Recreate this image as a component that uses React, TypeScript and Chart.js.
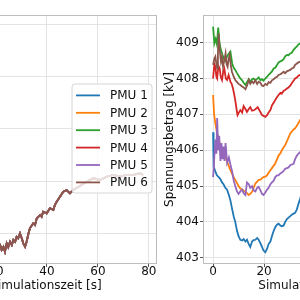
import { useEffect, useRef } from "react";
import { Chart, registerables } from "chart.js";

Chart.register(...registerables);

const PMU_LABELS = ["PMU 1", "PMU 2", "PMU 3", "PMU 4", "PMU 5", "PMU 6"];
const PMU_COLORS = ["#1f77b4", "#ff7f0e", "#2ca02c", "#d62728", "#9467bd", "#8c564b"];

const TIME_TICKS = [0, 20, 40, 60, 80];
const VOLT_TICKS = [403, 404, 405, 406, 407, 408, 409];
const LEFT_TICKS = [0, 5, 10, 15, 20];
const X_TITLE = "Simulationszeit [s]";
const VOLT_TITLE = "Spannungsbetrag [kV]";

// Left panel (all PMUs nearly identical)
const leftTime = [20.0, 21.6, 22.2, 22.9, 23.5, 24.2, 24.8, 25.5, 26.2, 26.8, 27.5, 28.1, 28.7, 29.4, 30.1, 30.7, 31.4, 32.0, 32.7, 33.3, 34.6, 35.3, 36.0, 37.3, 37.9, 38.5, 39.9, 41.2, 42.5, 43.1, 43.8, 45.1, 46.4, 47.7, 49.0, 50.3, 52.9, 55.6, 58.2, 60.8, 63.4, 66.0, 68.6, 71.3, 73.8, 76.5, 77.8];
const leftValue = [-1.4, -1.15, -1.63, -1.32, -1.8, -0.99, -1.35, -0.84, -1.15, -0.67, -0.84, -0.36, -0.51, -0.03, -0.51, -0.99, -1.32, -0.84, -0.1, 0.45, 0.93, 0.77, 1.41, 1.73, 1.57, 2.05, 1.89, 2.38, 2.21, 2.69, 3.01, 3.49, 3.97, 4.13, 3.82, 4.13, 4.52, 4.93, 5.26, 5.1, 5.41, 5.58, 5.41, 5.58, 5.58, 5.74, 5.58];

// Right panel: voltage magnitude per PMU
const pmu1Time = [0, 0.2, 0.9, 1.5, 2.2, 2.8, 3.5, 4.1, 4.8, 5.5, 6.2, 6.8, 7.5, 8.1, 8.7, 9.4, 10.0, 10.7, 11.4, 12.0, 12.7, 13.3, 14.0, 14.6, 15.3, 15.9, 16.6, 17.3, 17.9, 18.6, 19.2, 19.8, 20.5, 21.2, 21.8, 22.5, 23.1, 23.8, 24.4, 25.1, 25.7, 26.4, 27.0, 27.7, 28.3, 29.0, 29.6, 30.3, 30.9, 31.6, 32.2, 32.9, 33.5, 34.2, 35.0];
const pmu1Volt = [406.5, 405.55, 405.4, 405.3, 405.25, 405.2, 405.1, 405.05, 404.95, 404.9, 404.75, 404.6, 404.35, 404.15, 404.0, 403.75, 403.6, 403.5, 403.48, 403.52, 403.45, 403.5, 403.38, 403.3, 403.45, 403.49, 403.5, 403.55, 403.5, 403.4, 403.3, 403.2, 403.15, 403.25, 403.38, 403.45, 403.6, 403.75, 403.85, 403.92, 403.95, 403.9, 403.88, 403.9, 404.0, 404.08, 404.12, 404.16, 404.2, 404.23, 404.25, 404.35, 404.5, 404.65, 404.85];

const pmu2Time = [0, 0.4, 0.9, 1.5, 2.2, 2.9, 3.5, 4.2, 4.8, 5.5, 6.2, 6.8, 7.5, 8.1, 8.7, 9.4, 10.0, 10.7, 11.4, 12.0, 12.7, 13.3, 14.0, 14.6, 15.3, 15.9, 16.6, 17.3, 17.9, 18.6, 19.2, 19.8, 20.5, 21.2, 21.8, 22.5, 23.1, 23.8, 24.4, 25.1, 25.7, 26.4, 27.0, 27.7, 28.3, 29.0, 29.6, 30.3, 30.9, 31.6, 32.2, 32.9, 33.5, 34.2, 35.0];
const pmu2Volt = [407.54, 407.0, 406.75, 406.5, 406.3, 406.1, 406.0, 405.9, 405.82, 405.68, 405.55, 405.44, 405.33, 405.25, 405.17, 405.08, 405.0, 404.93, 404.9, 404.87, 404.84, 404.8, 404.75, 404.78, 404.84, 404.95, 405.07, 405.12, 405.17, 405.18, 405.22, 405.25, 405.26, 405.3, 405.37, 405.44, 405.5, 405.57, 405.63, 405.75, 405.85, 405.91, 406.0, 406.08, 406.14, 406.25, 406.35, 406.47, 406.52, 406.58, 406.61, 406.68, 406.76, 406.84, 406.95];

const pmu3Time = [0, 0.5, 1.0, 1.5, 2.0, 2.5, 2.9, 3.5, 4.2, 4.8, 5.5, 6.2, 6.8, 7.5, 8.1, 8.7, 9.4, 10.0, 10.7, 11.4, 12.0, 12.7, 13.3, 14.0, 14.6, 15.3, 15.9, 16.6, 17.3, 17.9, 18.6, 19.2, 19.8, 20.5, 21.2, 21.8, 22.5, 23.1, 23.8, 24.4, 25.1, 25.7, 26.4, 27.0, 27.7, 28.3, 29.0, 29.6, 30.3, 30.9, 31.6, 32.2, 32.9, 33.5, 34.2, 35.0];
const pmu3Volt = [409.45, 408.98, 409.1, 408.95, 409.42, 409.0, 408.85, 408.7, 408.56, 408.5, 408.62, 408.7, 408.75, 408.42, 408.3, 408.24, 408.15, 408.08, 408.0, 407.95, 407.88, 407.82, 407.9, 407.98, 407.91, 407.98, 408.0, 407.95, 407.99, 408.03, 407.95, 407.98, 407.94, 408.0, 408.05, 408.1, 408.15, 408.2, 408.28, 408.3, 408.38, 408.45, 408.48, 408.5, 408.54, 408.62, 408.66, 408.65, 408.7, 408.72, 408.8, 408.85, 408.9, 408.95, 408.98, 409.05];

const pmu4Time = [0, 0.5, 0.9, 1.3, 1.6, 2.1, 2.6, 3.0, 3.5, 4.0, 4.4, 5.0, 5.5, 6.1, 6.8, 7.3, 7.8, 8.3, 8.7, 9.2, 9.6, 10.1, 10.7, 11.4, 12.0, 12.7, 13.3, 14.0, 14.6, 15.3, 16.2, 17.5, 18.3, 19.2, 20.5, 21.2, 21.8, 22.5, 23.1, 24.0, 24.8, 25.7, 26.4, 27.0, 27.7, 28.3, 29.0, 29.6, 30.3, 31.0, 31.6, 32.2, 32.9, 33.5, 34.2, 35.0];
const pmu4Volt = [408.0, 408.4, 408.33, 408.05, 408.0, 408.35, 408.28, 408.05, 407.96, 408.2, 408.28, 408.0, 407.96, 408.1, 407.91, 407.85, 407.73, 407.55, 407.4, 407.15, 406.98, 407.05, 407.12, 407.05, 407.23, 407.15, 407.07, 407.15, 407.2, 407.1, 407.12, 407.2, 407.1, 406.98, 406.93, 406.98, 407.05, 407.12, 407.25, 407.35, 407.45, 407.54, 407.6, 407.58, 407.66, 407.68, 407.72, 407.75, 407.8, 407.88, 407.94, 408.0, 408.03, 408.08, 408.1, 408.15];

const pmu5Time = [0, 0.4, 0.9, 1.3, 1.6, 2.0, 2.4, 2.9, 3.3, 3.7, 4.1, 4.5, 4.9, 5.5, 6.2, 6.8, 7.5, 8.1, 8.7, 9.4, 10.0, 10.7, 11.4, 12.0, 12.7, 13.3, 14.0, 14.6, 15.3, 15.9, 16.6, 17.3, 17.9, 18.6, 19.2, 19.8, 20.5, 21.2, 21.8, 22.5, 23.1, 23.8, 24.4, 25.1, 25.7, 26.4, 27.0, 27.7, 28.3, 29.0, 29.6, 30.3, 30.9, 31.6, 32.2, 32.9, 33.5, 34.2, 35.0];
const pmu5Volt = [405.25, 405.7, 406.3, 405.9, 406.9, 406.0, 406.4, 405.7, 406.2, 405.75, 406.1, 405.7, 406.2, 405.65, 405.8, 405.6, 405.4, 405.15, 405.0, 404.85, 404.78, 404.85, 404.9, 404.8, 404.75, 405.1, 405.05, 404.95, 405.0, 404.88, 404.85, 404.95, 404.98, 404.88, 404.78, 404.75, 404.82, 404.9, 404.95, 405.05, 405.1, 405.15, 405.25, 405.3, 405.3, 405.35, 405.38, 405.42, 405.48, 405.5, 405.52, 405.58, 405.6, 405.62, 405.75, 405.85, 405.9, 405.95, 406.0];

const pmu6Time = [0, 0.5, 0.9, 1.3, 1.6, 1.9, 2.2, 2.6, 3.1, 3.5, 3.9, 4.4, 4.9, 5.3, 5.7, 6.1, 6.5, 7.0, 7.4, 8.1, 8.7, 9.4, 10.0, 10.7, 11.4, 12.0, 12.7, 13.3, 14.0, 14.6, 15.3, 15.9, 16.6, 17.3, 17.9, 18.6, 19.2, 19.8, 20.5, 21.2, 21.8, 22.5, 23.1, 23.8, 24.4, 25.1, 25.7, 26.4, 27.0, 27.7, 28.3, 29.0, 29.6, 30.3, 30.9, 31.6, 32.2, 32.9, 33.5, 34.2, 35.0];
const pmu6Volt = [408.38, 408.55, 408.61, 408.4, 408.28, 408.7, 409.26, 408.8, 408.47, 408.6, 408.33, 408.5, 408.7, 408.4, 408.33, 408.55, 408.66, 408.35, 408.19, 408.05, 407.96, 407.9, 407.85, 407.82, 407.78, 407.75, 407.7, 407.8, 407.96, 407.85, 407.92, 407.87, 407.95, 407.85, 407.91, 407.88, 407.8, 407.79, 407.85, 407.82, 407.9, 407.88, 407.95, 407.98, 408.02, 408.05, 408.1, 408.12, 408.15, 408.19, 408.15, 408.2, 408.22, 408.24, 408.28, 408.3, 408.38, 408.42, 408.45, 408.47, 408.5];

const VOLT_TIMES = [pmu1Time, pmu2Time, pmu3Time, pmu4Time, pmu5Time, pmu6Time];
const VOLT_VALUES = [pmu1Volt, pmu2Volt, pmu3Volt, pmu4Volt, pmu5Volt, pmu6Volt];

const FONT = "'DejaVu Sans', sans-serif";
const GRID = "#e3e3e3";
const FRAME = "#bdbdbd";
const TICK_MARK = "#555555";
const TEXT = "#111111";

const X_MIN = -3.96;
const X_MAX = 83.2;

const framePlugin = {
  id: "frame",
  afterDatasetsDraw(chart: any) {
    const { ctx, chartArea: a } = chart;
    ctx.save();
    ctx.strokeStyle = FRAME;
    ctx.lineWidth = 1;
    ctx.strokeRect(a.left + 0.5, a.top + 0.5, a.right - a.left - 1, a.bottom - a.top - 1);
    ctx.restore();
  },
};

const legendPlugin = {
  id: "innerLegend",
  afterDraw(chart: any) {
    const { ctx, chartArea: a } = chart;
    const w = 80;
    const rowH = 17.4;
    const h = 109;
    const right = a.right - 5;
    const left = right - w;
    const top = (a.top + a.bottom) / 2 - h / 2 - 1;
    ctx.save();
    ctx.beginPath();
    const r = 3;
    ctx.moveTo(left + r, top);
    ctx.lineTo(left + w - r, top);
    ctx.arcTo(left + w, top, left + w, top + r, r);
    ctx.lineTo(left + w, top + h - r);
    ctx.arcTo(left + w, top + h, left + w - r, top + h, r);
    ctx.lineTo(left + r, top + h);
    ctx.arcTo(left, top + h, left, top + h - r, r);
    ctx.lineTo(left, top + r);
    ctx.arcTo(left, top, left + r, top, r);
    ctx.closePath();
    ctx.fillStyle = "rgba(255,255,255,0.8)";
    ctx.fill();
    ctx.strokeStyle = "#d6d6d6";
    ctx.lineWidth = 1;
    ctx.stroke();
    ctx.font = `12px ${FONT}`;
    ctx.textBaseline = "middle";
    ctx.textAlign = "left";
    PMU_LABELS.forEach((label, i) => {
      const y = top + 11.4 + i * rowH;
      ctx.strokeStyle = PMU_COLORS[i];
      ctx.lineWidth = 1.8;
      ctx.beginPath();
      ctx.moveTo(left + 4, y);
      ctx.lineTo(left + 28, y);
      ctx.stroke();
      ctx.fillStyle = TEXT;
      ctx.fillText(label, left + 38, y + 0.8);
    });
    ctx.restore();
  },
};

function xScale() {
  return {
    type: "linear",
    min: X_MIN,
    max: X_MAX,
    afterBuildTicks: (s: any) => {
      s.ticks = TIME_TICKS.map((v) => ({ value: v }));
    },
    afterFit: (s: any) => {
      s.height = 36;
    },
    ticks: {
      color: TEXT,
      padding: -2,
      maxRotation: 0,
      font: { family: FONT, size: 12 },
    },
    grid: { color: GRID, lineWidth: 1, tickLength: 3, tickColor: TICK_MARK },
    border: { display: false },
    title: {
      display: true,
      text: X_TITLE,
      color: TEXT,
      font: { family: FONT, size: 12 },
      padding: { top: 0, bottom: 7.4 },
    },
  };
}

function makeDatasets(times: number[][], values: number[][]) {
  return PMU_LABELS.map((label, i) => ({
    label,
    data: times[i].map((t, j) => ({ x: t, y: values[i][j] })),
    borderColor: PMU_COLORS[i],
    backgroundColor: PMU_COLORS[i],
    borderWidth: 1.8,
    pointRadius: 0,
    tension: 0,
    fill: false,
    order: PMU_LABELS.length - i,
  }));
}

function LeftChart() {
  const ref = useRef<HTMLCanvasElement | null>(null);
  useEffect(() => {
    if (!ref.current) return;
    const times = PMU_LABELS.map(() => leftTime);
    const values = PMU_LABELS.map(() => leftValue);
    const chart = new Chart(ref.current, {
      type: "line",
      data: { datasets: makeDatasets(times, values) as any },
      options: {
        animation: false,
        responsive: false,
        devicePixelRatio: 1,
        layout: { padding: { left: 0, right: 10, top: 15, bottom: 0 } },
        plugins: { legend: { display: false }, tooltip: { enabled: false } },
        scales: {
          x: xScale() as any,
          y: {
            type: "linear",
            min: -2.98,
            max: 20.96,
            afterBuildTicks: (s: any) => {
              s.ticks = LEFT_TICKS.map((v) => ({ value: v }));
            },
            afterFit: (s: any) => {
              s.width = 50;
            },
            ticks: { display: false },
            grid: { color: GRID, tickLength: 3, tickColor: TICK_MARK },
            border: { display: false },
          },
        },
      },
      plugins: [framePlugin, legendPlugin],
    });
    return () => chart.destroy();
  }, []);
  return (
    <canvas
      ref={ref}
      width={282}
      height={300}
      style={{ position: "fixed", left: -115, top: 0, width: 282, height: 300 }}
    />
  );
}

function RightChart() {
  const ref = useRef<HTMLCanvasElement | null>(null);
  useEffect(() => {
    if (!ref.current) return;
    const chart = new Chart(ref.current, {
      type: "line",
      data: { datasets: makeDatasets(VOLT_TIMES, VOLT_VALUES) as any },
      options: {
        animation: false,
        responsive: false,
        devicePixelRatio: 1,
        layout: { padding: { left: 0, right: 0, top: 15, bottom: 0 } },
        plugins: { legend: { display: false }, tooltip: { enabled: false } },
        scales: {
          x: xScale() as any,
          y: {
            type: "linear",
            min: 402.824,
            max: 409.773,
            afterBuildTicks: (s: any) => {
              s.ticks = VOLT_TICKS.map((v) => ({ value: v }));
            },
            afterFit: (s: any) => {
              s.width = 45;
            },
            ticks: {
              color: TEXT,
              padding: 1,
              font: { family: FONT, size: 12 },
            },
            grid: { color: GRID, tickLength: 3, tickColor: TICK_MARK },
            border: { display: false },
            title: {
              display: true,
              text: VOLT_TITLE,
              color: TEXT,
              font: { family: FONT, size: 12 },
              padding: { top: 4.8, bottom: 0 },
            },
          },
        },
      },
      plugins: [framePlugin],
    });
    return () => chart.destroy();
  }, []);
  return (
    <canvas
      ref={ref}
      width={267}
      height={300}
      style={{ position: "fixed", left: 158, top: 0, width: 267, height: 300 }}
    />
  );
}

export default function App() {
  return (
    <div style={{ position: "relative", width: 300, height: 300, background: "#ffffff" }}>
      <LeftChart />
      <RightChart />
    </div>
  );
}
